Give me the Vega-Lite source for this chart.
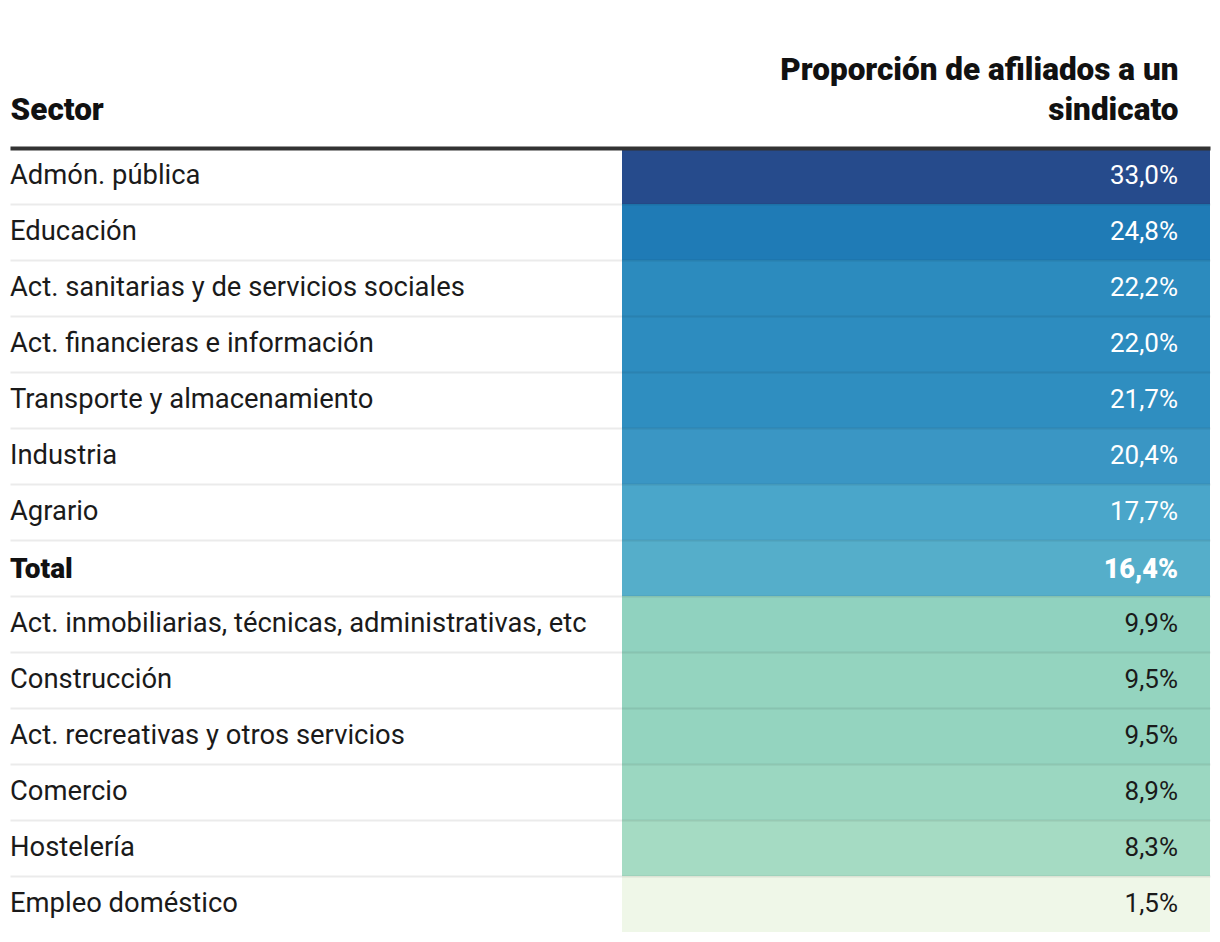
{
  "$schema": "https://vega.github.io/schema/vega-lite/v6.json",
  "width": 1200,
  "height": 784,
  "autosize": {"type": "none"},
  "padding": {"left": 10, "top": 148, "right": 10, "bottom": 10},
  "background": "white",
  "config": {
    "view": {"stroke": null},
    "locale": {"number": {"decimal": ",", "thousands": ".", "grouping": [3], "currency": ["", " €"]}}
  },
  "data": {
    "values": [
      {"sector": "Admón. pública", "value": 0.330},
      {"sector": "Educación", "value": 0.248},
      {"sector": "Act. sanitarias y de servicios sociales", "value": 0.222},
      {"sector": "Act. financieras e información", "value": 0.220},
      {"sector": "Transporte y almacenamiento", "value": 0.217},
      {"sector": "Industria", "value": 0.204},
      {"sector": "Agrario", "value": 0.177},
      {"sector": "Total", "value": 0.164},
      {"sector": "Act. inmobiliarias, técnicas, administrativas, etc", "value": 0.099},
      {"sector": "Construcción", "value": 0.095},
      {"sector": "Act. recreativas y otros servicios", "value": 0.095},
      {"sector": "Comercio", "value": 0.089},
      {"sector": "Hostelería", "value": 0.083},
      {"sector": "Empleo doméstico", "value": 0.015}
    ]
  },
  "encoding": {
    "y": {
      "field": "sector",
      "type": "nominal",
      "sort": null,
      "scale": {"paddingInner": 0, "paddingOuter": 0},
      "axis": {
        "title": null,
        "labels": false,
        "ticks": false,
        "domain": false,
        "grid": true,
        "gridColor": "black",
        "gridOpacity": 0.08,
        "gridWidth": 2,
        "bandPosition": 0,
        "zindex": 1
      }
    }
  },
  "layer": [
    {
      "mark": {"type": "rect"},
      "encoding": {
        "x": {
          "datum": 0.51,
          "type": "quantitative",
          "scale": {"domain": [0, 1], "nice": false, "zero": false},
          "axis": {
            "orient": "top",
            "title": null,
            "values": [0, 0.9733],
            "labelExpr": "datum.value == 0 ? 'Sector' : ['Proporción de afiliados a un', 'sindicato']",
            "labelAlign": {"condition": {"test": "datum.value == 0", "value": "left"}, "value": "right"},
            "labelPadding": {"condition": {"test": "datum.value == 0", "value": 22}, "value": 62},
            "ticks": false,
            "grid": false,
            "domainColor": "#333333",
            "domainWidth": 4,
            "labelFont": "Roboto",
            "labelFontWeight": 900,
            "labelFontSize": 31.5,
            "labelColor": "#111111",
            "labelLineHeight": 40,
            "labelBaseline": "bottom",
            "labelLimit": 2000,
            "labelBound": false,
            "labelOverlap": false,
            "labelFlush": false,
            "zindex": 2
          }
        },
        "x2": {"datum": 1},
        "fill": {
          "field": "value",
          "type": "quantitative",
          "legend": null,
          "scale": {
            "domain": [0.015, 0.083, 0.089, 0.095, 0.099, 0.164, 0.177, 0.204, 0.217, 0.220, 0.222, 0.248, 0.330],
            "range": ["#eff7e8", "#a5dbc3", "#9bd7c1", "#94d4bf", "#90d2bf", "#55aeca", "#4aa6ca", "#3a96c4", "#2f8ec0", "#2d8cbf", "#2c8bbe", "#1f7bb6", "#264b8c"]
          }
        }
      }
    },
    {
      "transform": [{"filter": "datum.sector != 'Total'"}],
      "mark": {"type": "text", "align": "left", "baseline": "middle", "font": "Roboto", "fontSize": 27.4, "color": "#1a1a1a"},
      "encoding": {
        "x": {"datum": 0, "type": "quantitative"},
        "text": {"field": "sector", "type": "nominal"}
      }
    },
    {
      "transform": [{"filter": "datum.sector == 'Total'"}],
      "mark": {"type": "text", "align": "left", "baseline": "middle", "dy": 2, "font": "Roboto", "fontSize": 28, "fontWeight": 900, "color": "#111111"},
      "encoding": {
        "x": {"datum": 0, "type": "quantitative"},
        "text": {"field": "sector", "type": "nominal"}
      }
    },
    {
      "transform": [{"filter": "datum.sector != 'Total'"}],
      "mark": {"type": "text", "align": "right", "baseline": "middle", "font": "Roboto", "fontSize": 26},
      "encoding": {
        "x": {"datum": 0.9733, "type": "quantitative"},
        "text": {"field": "value", "type": "quantitative", "format": ".1%"},
        "color": {"condition": {"test": "datum.value > 0.15", "value": "white"}, "value": "#1a1a1a"}
      }
    },
    {
      "transform": [{"filter": "datum.sector == 'Total'"}],
      "mark": {"type": "text", "align": "right", "baseline": "middle", "dy": 2, "font": "Roboto", "fontSize": 27, "fontWeight": 900, "color": "white"},
      "encoding": {
        "x": {"datum": 0.9733, "type": "quantitative"},
        "text": {"field": "value", "type": "quantitative", "format": ".1%"}
      }
    }
  ]
}
